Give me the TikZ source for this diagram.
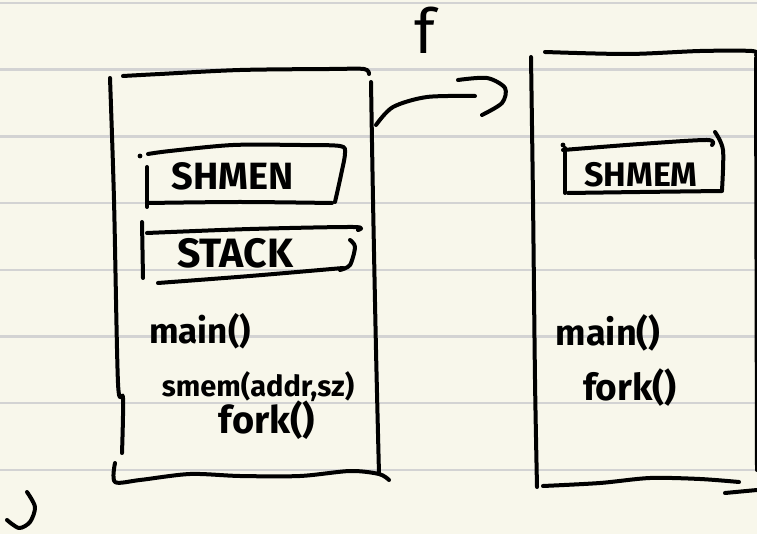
\documentclass[tikz,border=0pt]{standalone}
\usepackage{fontspec}
\setmainfont{Fira Sans}
\usetikzlibrary{positioning}
\definecolor{paper}{RGB}{248,247,235}
\definecolor{ruleline}{RGB}{211,211,211}
\tikzset{pen/.style = {draw, line width=4pt, line cap=round, line join=round}}
\tikzset{box-text/.style = {font=\fontsize{38}{38}\selectfont\bfseries, inner sep=0pt}}
\tikzset{code/.style = {font=\fontsize{33}{33}\selectfont\bfseries, inner sep=0pt}}

\begin{document}
\begin{tikzpicture}[x=1pt, y=-1pt]
  \useasboundingbox[fill=paper] (0,0) rectangle (757,534);
  % ruled paper
  \foreach \k in {0,...,7}
  {
    \draw[ruleline, line width=2.4pt] (0,3+66.7*\k) -- (757,3+66.7*\k);
  }

  % parent process
  \draw[pen] plot[smooth] coordinates {(123,76) (160,74) (240,70) (330,69) (364,69) (369,74)};
  \draw[pen] plot[smooth] coordinates {(110,78) (114,200) (118,383) (123,398) (122,453)};
  \draw[pen] plot[smooth] coordinates {(371,82) (373,200) (376,350) (379,474)};
  \draw[pen] plot[smooth, tension=0.5] coordinates {(115,463) (115,482) (140,480) (190,474) (240,476) (300,476) (350,471) (379,474) (389,480)};

  % shared memory and stack
  \fill (140,156) circle (2.4pt);
  \draw[pen] plot[smooth] coordinates {(148,154) (170,151) (233,145) (300,145) (340,146) (345,153) (341,175) (335,202)};
  \draw[pen] (147,167) -- (147,207);
  \draw[pen] plot[smooth] coordinates {(147,203) (240,202) (332,203)};
  \draw[pen] (142,222) -- (143,278);
  \draw[pen] plot[smooth] coordinates {(147,233) (250,229) (353,227) (358,230)};
  \draw[pen] plot[smooth] coordinates {(350,240) (355,247) (350,265) (340,270)};
  \draw[pen] plot[smooth] coordinates {(158,283) (250,276) (343,268)};

  \path (233,176) node[box-text] (pshm) {SHMEN}
      ++(2,77) node[box-text, font=\fontsize{41}{41}\selectfont\bfseries] (pstack) {STACK};

  \path (200,331) node[code, font=\fontsize{35}{35}\selectfont\bfseries] (pmain) {main()}
      ++(58,56) node[code, font=\fontsize{29}{29}\selectfont\bfseries] (psmem) {smem(addr,sz)}
      ++(9,33) node[code, font=\fontsize{38}{38}\selectfont\bfseries] (pfork) {fork()};

  % fork arrow
  \coordinate (from) at (376,125);
  \coordinate (to) at (475,96);
  \draw[pen] plot[smooth] coordinates {(from) (393,107) (427,97) (to)};
  \draw[pen] plot[smooth] coordinates {(458,80) (487,78) (505,88) (502,103) (482,115)};
  \node[font=\fontsize{62}{62}\selectfont, inner sep=0pt] (flabel) at (425,30) {f};

  % child process
  \draw[pen] plot[smooth] coordinates {(531,57) (533,200) (535,380) (537,487)};
  \draw[pen] plot[smooth] coordinates {(545,52) (628,54) (700,51) (752,51) (756,55)};
  \draw[pen] (756,58) -- (757,470);
  \draw[pen] plot[smooth] coordinates {(543,486) (600,483) (650,478) (700,479) (739,482)};
  \draw[pen] (725,493) -- (757,490);

  \fill (563,145) circle (2.4pt);
  \draw[pen] plot[smooth] coordinates {(563,150) (640,144) (707,140) (712,145)};
  \draw[pen] plot[smooth] coordinates {(715,132) (723,150) (722,190)};
  \draw[pen] (565,148) -- (565,193);
  \draw[pen] plot[smooth] coordinates {(568,193) (640,192) (722,191)};

  \path (641,175) node[box-text, font=\fontsize{34}{34}\selectfont\bfseries] (cshm) {SHMEM}
      ++(-33,158) node[code, font=\fontsize{36}{36}\selectfont\bfseries] (cmain) {main()}
      ++(22,55) node[code, font=\fontsize{37}{37}\selectfont\bfseries] (cfork) {fork()};

  % stray stroke
  \draw[pen] plot[smooth] coordinates {(27,492) (35,507) (30,522) (19,528) (7,520)};
\end{tikzpicture}
\end{document}
